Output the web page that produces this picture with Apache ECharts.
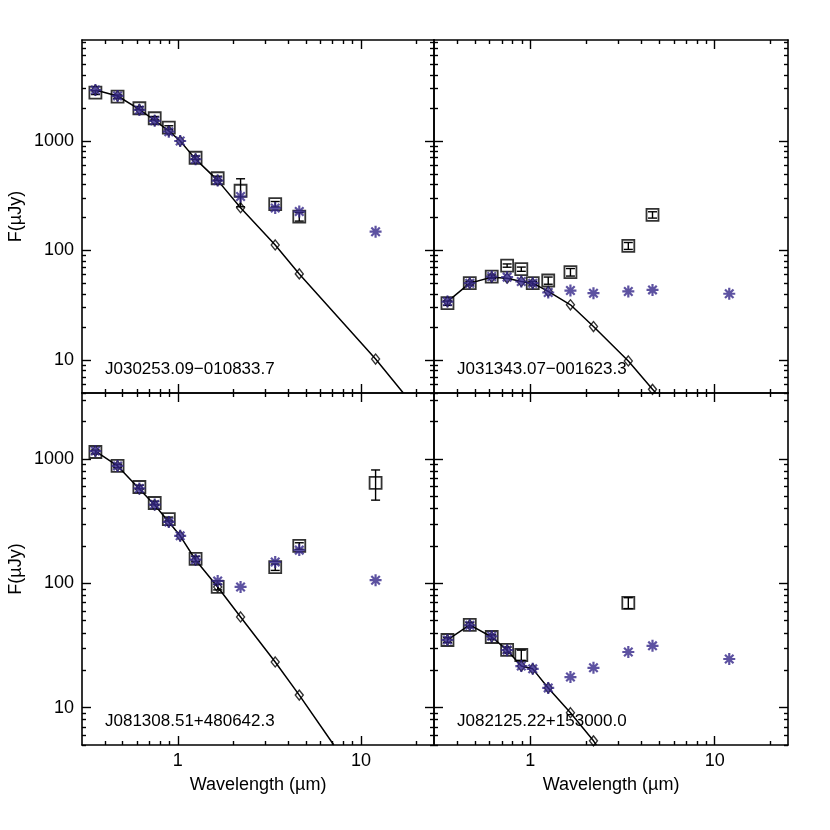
<!DOCTYPE html>
<html><head><meta charset="utf-8">
<script src="https://cdn.jsdelivr.net/npm/echarts@6/dist/echarts.min.js"></script>
<style>html,body{margin:0;padding:0;background:#fff}#c{width:830px;height:830px}</style>
</head><body><div id="c"></div>
<script>
// ---------- data ----------
const objectNames = ["J030253.09\u2212010833.7", "J031343.07\u2212001623.3", "J081308.51+480642.3", "J082125.22+153000.0"];
const xTitle = "Wavelength (\u00b5m)";
const yTitle = "F(\u00b5Jy)";

const xMajorTicks = [1, 10];
const xMinorTicks = [0.4, 0.5, 0.6, 0.7, 0.8, 0.9, 2, 3, 4, 5, 6, 7, 8, 9, 20];
const yMajorTicks = [10, 100, 1000];
const yMinorTicks = [5, 6, 7, 8, 9, 20, 30, 40, 50, 60, 70, 80, 90, 200, 300, 400, 500, 600, 700, 800, 900, 2000, 3000, 4000, 5000, 6000, 7000, 8000];
const xRange = [0.3, 25];
const yRangeTop = [5, 8300];
const yRangeBottom = [5, 3400];

const wlAll = [0.355, 0.469, 0.617, 0.748, 0.893, 1.03, 1.25, 1.65, 2.2, 3.4, 4.6, 12];

// Panel A
const sqWlA = [0.355, 0.469, 0.617, 0.748, 0.893, 1.25, 1.65, 2.2, 3.4, 4.6];
const sqFluxA = [2750, 2525, 1980, 1605, 1320, 700, 455, 350, 264, 203];
const sqErrA = [110, 90, 60, 60, 50, 25, 20, 100, 15, 18];
const starFluxA = [2900, 2565, 1910, 1520, 1210, 995, 678, 433, 310, 243, 226, 148];
const modWlA = [0.355, 0.469, 0.617, 0.748, 0.893, 1.03, 1.25, 1.65, 2.2, 3.4, 4.6, 12];
const modFluxA = [2900, 2560, 1930, 1530, 1230, 995, 680, 435, 245, 112, 61, 10.2];
const lineExitA = [17.0, 5];

// Panel B
const sqWlB = [0.355, 0.469, 0.617, 0.748, 0.893, 1.03, 1.25, 1.65, 3.4, 4.6];
const sqFluxB = [33.0, 50.2, 57.7, 72.7, 67.4, 50.2, 53.1, 63.3, 110, 211];
const sqErrB = [1.5, 2, 2, 2.5, 3, 2, 4, 5, 8, 14];
const starFluxB = [34.1, 50.2, 57.7, 57.0, 52.0, 50.2, 41.3, 43.0, 40.7, 42.2, 43.6, 40.2];
const modWlB = [0.355, 0.469, 0.617, 0.748, 0.893, 1.03, 1.25, 1.65, 2.2, 3.4, 4.6];
const modFluxB = [34.1, 50.2, 57.0, 55.8, 52.0, 50.2, 42.2, 31.9, 20.2, 9.8, 5.4];
const lineExitB = [4.8, 5];

// Panel C
const sqWlC = [0.355, 0.469, 0.617, 0.748, 0.893, 1.25, 1.65, 3.4, 4.6, 12];
const sqFluxC = [1140, 880, 596, 443, 329, 157, 93.5, 135, 200, 642];
const sqErrC = [40, 30, 20, 15, 12, 8, 5, 8, 12, 175];
const starFluxC = [1160, 880, 580, 430, 312, 241, 155, 104.5, 93.5, 148.5, 185, 106];
const modWlC = [0.355, 0.469, 0.617, 0.748, 0.893, 1.03, 1.25, 1.65, 2.2, 3.4, 4.6];
const modFluxC = [1160, 880, 574, 427, 312, 241, 154, 93.5, 53.6, 23.3, 12.6];
const lineExitC = [7.1, 5];

// Panel D
const sqWlD = [0.355, 0.469, 0.617, 0.748, 0.893, 3.4];
const sqFluxD = [35, 46.3, 37, 29.1, 26.5, 69.6];
const sqErrD = [1.5, 2, 1.5, 1.5, 2.5, 7];
const starFluxD = [35, 46, 37.5, 29, 21.6, 20.5, 14.4, 17.6, 20.9, 28, 31.4, 24.6];
const modWlD = [0.355, 0.469, 0.617, 0.748, 0.893, 1.03, 1.25, 1.65, 2.2];
const modFluxD = [35, 46.3, 37, 29, 21.6, 20.5, 14.4, 9.1, 5.4];
const lineExitD = [2.28, 5];

// ---------- build ----------
const FONT = "'Liberation Sans', Arial, Helvetica, sans-serif";
const STAR = '#35278a';
const panels = [
  {sqWl: sqWlA, sqFlux: sqFluxA, sqErr: sqErrA, star: starFluxA, modWl: modWlA, mod: modFluxA, exit: lineExitA},
  {sqWl: sqWlB, sqFlux: sqFluxB, sqErr: sqErrB, star: starFluxB, modWl: modWlB, mod: modFluxB, exit: lineExitB},
  {sqWl: sqWlC, sqFlux: sqFluxC, sqErr: sqErrC, star: starFluxC, modWl: modWlC, mod: modFluxC, exit: lineExitC},
  {sqWl: sqWlD, sqFlux: sqFluxD, sqErr: sqErrD, star: starFluxD, modWl: modWlD, mod: modFluxD, exit: lineExitD}
];
const gridBoxes = [
  {left: 82, top: 40, width: 352, height: 353},
  {left: 434, top: 40, width: 354, height: 353},
  {left: 82, top: 393, width: 352, height: 352},
  {left: 434, top: 393, width: 354, height: 352}
];
const zip = (a, b) => a.map((v, i) => [v, b[i]]);
const starPath = 'path://M-1.1,-6L1.1,-6L1.1,6L-1.1,6Z M-6,-1.1L6,-1.1L6,1.1L-6,1.1Z M-3.46,-5.02L5.02,3.46L3.46,5.02L-5.02,-3.46Z M5.02,-3.46L-3.46,5.02L-5.02,3.46L3.46,-5.02Z';

const grids = [], xAxes = [], yAxes = [], series = [], graphics = [];
gridBoxes.forEach((g, gi) => {
  grids.push(Object.assign({containLabel: false}, g));
  const bottomRow = gi >= 2, leftCol = gi % 2 === 0;
  const yr = bottomRow ? yRangeBottom : yRangeTop;
  const axLine = {show: true, onZero: false, lineStyle: {color: '#000', width: 1.6}};
  const noLine = {show: false, onZero: false};
  const mkX = (pos, major, label) => ({
    type: 'log', logBase: 10, gridIndex: gi, position: pos, min: xRange[0], max: xRange[1],
    axisLine: major ? axLine : noLine,
    axisTick: {show: true, inside: true, length: major ? 9 : 4, customValues: major ? xMajorTicks : xMinorTicks, lineStyle: {color: '#000', width: 1.4}},
    axisLabel: {show: !!label, customValues: xMajorTicks, margin: 7, color: '#000', fontSize: 18, fontFamily: FONT, formatter: v => String(Math.round(v))},
    splitLine: {show: false}, minorTick: {show: false},
    name: label ? xTitle : '', nameLocation: 'middle', nameGap: 31,
    nameTextStyle: {color: '#000', fontSize: 18, fontFamily: FONT}
  });
  const mkY = (pos, major, label) => ({
    type: 'log', logBase: 10, gridIndex: gi, position: pos, min: yr[0], max: yr[1],
    axisLine: major ? axLine : noLine,
    axisTick: {show: true, inside: true, length: major ? 9 : 4, customValues: major ? yMajorTicks : yMinorTicks, lineStyle: {color: '#000', width: 1.4}},
    axisLabel: {show: !!label, customValues: yMajorTicks, margin: 8, color: '#000', fontSize: 18, fontFamily: FONT, formatter: v => String(Math.round(v))},
    splitLine: {show: false}, minorTick: {show: false},
    name: label ? yTitle : '', nameLocation: 'middle', nameGap: 57, nameRotate: 90,
    nameTextStyle: {color: '#000', fontSize: 18, fontFamily: FONT}
  });
  // order matters: the 3rd/4th axes on an used side get flipped
  xAxes.push(mkX('bottom', true, bottomRow), mkX('top', true, false), mkX('bottom', false, false), mkX('top', false, false));
  yAxes.push(mkY('left', true, leftCol), mkY('right', true, false), mkY('left', false, false), mkY('right', false, false));
  const xi = gi * 4, yi = gi * 4;
  const p = panels[gi];
  const lineData = zip(p.modWl, p.mod).concat([p.exit]);
  series.push({
    type: 'line', xAxisIndex: xi, yAxisIndex: yi, data: lineData, showSymbol: false, symbol: 'none',
    lineStyle: {color: '#000', width: 1.5}, clip: true, z: 2, silent: true
  });
  series.push({
    type: 'scatter', xAxisIndex: xi, yAxisIndex: yi, data: zip(p.modWl, p.mod), symbol: 'diamond', symbolSize: [8, 10],
    itemStyle: {color: 'rgba(0,0,0,0)', borderColor: '#000', borderWidth: 1.4}, z: 3, silent: true
  });
  series.push({
    type: 'scatter', xAxisIndex: xi, yAxisIndex: yi, data: zip(p.sqWl, p.sqFlux), symbol: 'rect', symbolSize: 12,
    itemStyle: {color: 'rgba(0,0,0,0)', borderColor: '#000', borderWidth: 1.8}, z: 4, silent: true
  });
  series.push({
    type: 'custom', xAxisIndex: xi, yAxisIndex: yi, z: 4, silent: true,
    data: p.sqWl.map((w, i) => [w, p.sqFlux[i] - p.sqErr[i], p.sqFlux[i] + p.sqErr[i]]),
    encode: {x: 0, y: [1, 2]},
    renderItem: (params, api) => {
      const a = api.coord([api.value(0), api.value(1)]);
      const b = api.coord([api.value(0), api.value(2)]);
      const w = 4.5, st = {stroke: '#000', lineWidth: 1.4};
      return {type: 'group', children: [
        {type: 'line', shape: {x1: a[0], y1: a[1], x2: b[0], y2: b[1]}, style: st},
        {type: 'line', shape: {x1: a[0] - w, y1: a[1], x2: a[0] + w, y2: a[1]}, style: st},
        {type: 'line', shape: {x1: b[0] - w, y1: b[1], x2: b[0] + w, y2: b[1]}, style: st}
      ]};
    }
  });
  series.push({
    type: 'scatter', xAxisIndex: xi, yAxisIndex: yi, data: zip(wlAll, p.star), symbol: starPath, symbolSize: 12,
    itemStyle: {color: STAR}, z: 5, silent: true
  });
  graphics.push({
    type: 'text', x: g.left + 23, y: g.top + g.height - 24,
    style: {text: objectNames[gi], fill: '#000', font: "17px " + FONT, textVerticalAlign: 'middle'}
  });
});

const chart = echarts.init(document.getElementById('c'), null, {renderer: 'canvas'});
chart.setOption({
  backgroundColor: '#fff', animation: false,
  grid: grids, xAxis: xAxes, yAxis: yAxes, series: series, graphic: graphics
});
</script></body></html>
